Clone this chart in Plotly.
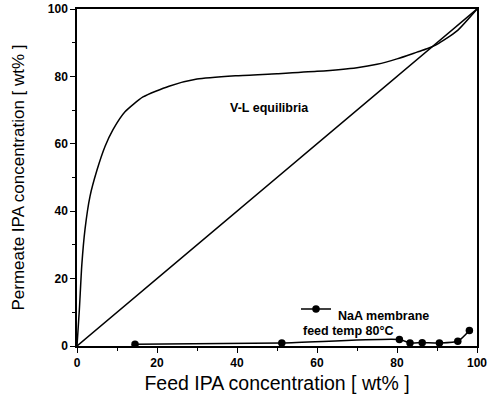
import plotly.graph_objects as go

# V-L equilibrium curve (IPA/water)
vle_x = [0, 0.6, 1.2, 2, 3.25, 5, 7, 9, 12, 16.5, 23, 30, 40, 50, 60, 70, 75, 80, 85, 87.5, 90, 95, 100]
vle_y = [0, 11, 24, 34.6, 44.4, 52.2, 59.2, 64.2, 69.5, 73.9, 77.1, 79.2, 80.2, 80.8, 81.5, 82.6, 83.6, 85.2, 87.2, 88.2, 89.5, 93.5, 100]

# diagonal y = x
diag_x = [0, 100]
diag_y = [0, 100]

# NaA membrane permeate data (feed temp 80 C)
naa_x = [14.5, 51.2, 80.6, 83.25, 86.3, 90.6, 95.2, 98.1]
naa_y = [0.5, 0.9, 1.9, 0.9, 1.0, 0.9, 1.4, 4.6]

x_ticks = [0, 20, 40, 60, 80, 100]
y_ticks = [0, 20, 40, 60, 80, 100]

FONT = "Liberation Sans, Arial, sans-serif"

W, H = 491, 405
L, R, T, B = 77, 477, 8.5, 346   # plot-area edges in pixels

def px(xp):
    return (xp - L) / (R - L)

def py(yp):
    return (B - yp) / (B - T)

fig = go.Figure()
fig.add_trace(go.Scatter(x=vle_x, y=vle_y, mode="lines", line=dict(color="black", width=1.5, shape="spline", smoothing=0.6),
                         showlegend=False, hoverinfo="skip"))
fig.add_trace(go.Scatter(x=diag_x, y=diag_y, mode="lines", line=dict(color="black", width=1.5),
                         showlegend=False, hoverinfo="skip"))
fig.add_trace(go.Scatter(x=naa_x, y=naa_y, mode="lines+markers", name=" ",
                         line=dict(color="black", width=1.5, shape="spline", smoothing=0.6),
                         marker=dict(color="black", size=7.5, symbol="circle"),
                         showlegend=True))

ann_font = dict(family=FONT, size=12.5, color="black", weight="bold")
fig.add_annotation(x=px(269), y=py(99), xref="paper", yref="paper", text="V-L equilibria", showarrow=False,
                   font=ann_font)
fig.add_annotation(x=px(336), y=py(316), xref="paper", yref="paper",
                   xanchor="left", yanchor="middle", text="NaA membrane", showarrow=False, font=ann_font)
fig.add_annotation(x=px(301), y=py(331), xref="paper", yref="paper",
                   xanchor="left", yanchor="middle", text="feed temp 80°C", showarrow=False, font=ann_font)

axis_common = dict(showgrid=False, zeroline=False, showline=True, linecolor="black", linewidth=1.5,
                   mirror=True, ticks="outside", ticklen=5, tickwidth=1.2, tickcolor="black",
                   automargin=False,
                   tickfont=dict(family=FONT, size=12, color="black", weight="bold"),
                   minor=dict(ticks="outside", ticklen=3, tickwidth=1, tickcolor="black", dtick=10))

fig.update_xaxes(range=[0, 100], tickvals=x_ticks, title=dict(text="Feed IPA concentration [ wt% ]",
                 font=dict(family=FONT, size=19.5, color="black"), standoff=7), **axis_common)
fig.update_yaxes(range=[0, 100], tickvals=y_ticks,
                 title=dict(text="Permeate IPA concentration [ wt% ]",
                 font=dict(family=FONT, size=17, color="black"), standoff=19), **axis_common)

fig.update_layout(
    width=W, height=H,
    margin=dict(l=L, r=W - R, t=T, b=H - B),
    plot_bgcolor="white", paper_bgcolor="white",
    legend=dict(x=px(296), y=py(309), xanchor="left", yanchor="middle",
                bgcolor="rgba(0,0,0,0)", font=dict(family=FONT, size=10), tracegroupgap=0),
)

fig.write_html("out.html", config={"displayModeBar": False},
               post_script="document.body.style.margin='0px';document.body.style.overflow='hidden';")
